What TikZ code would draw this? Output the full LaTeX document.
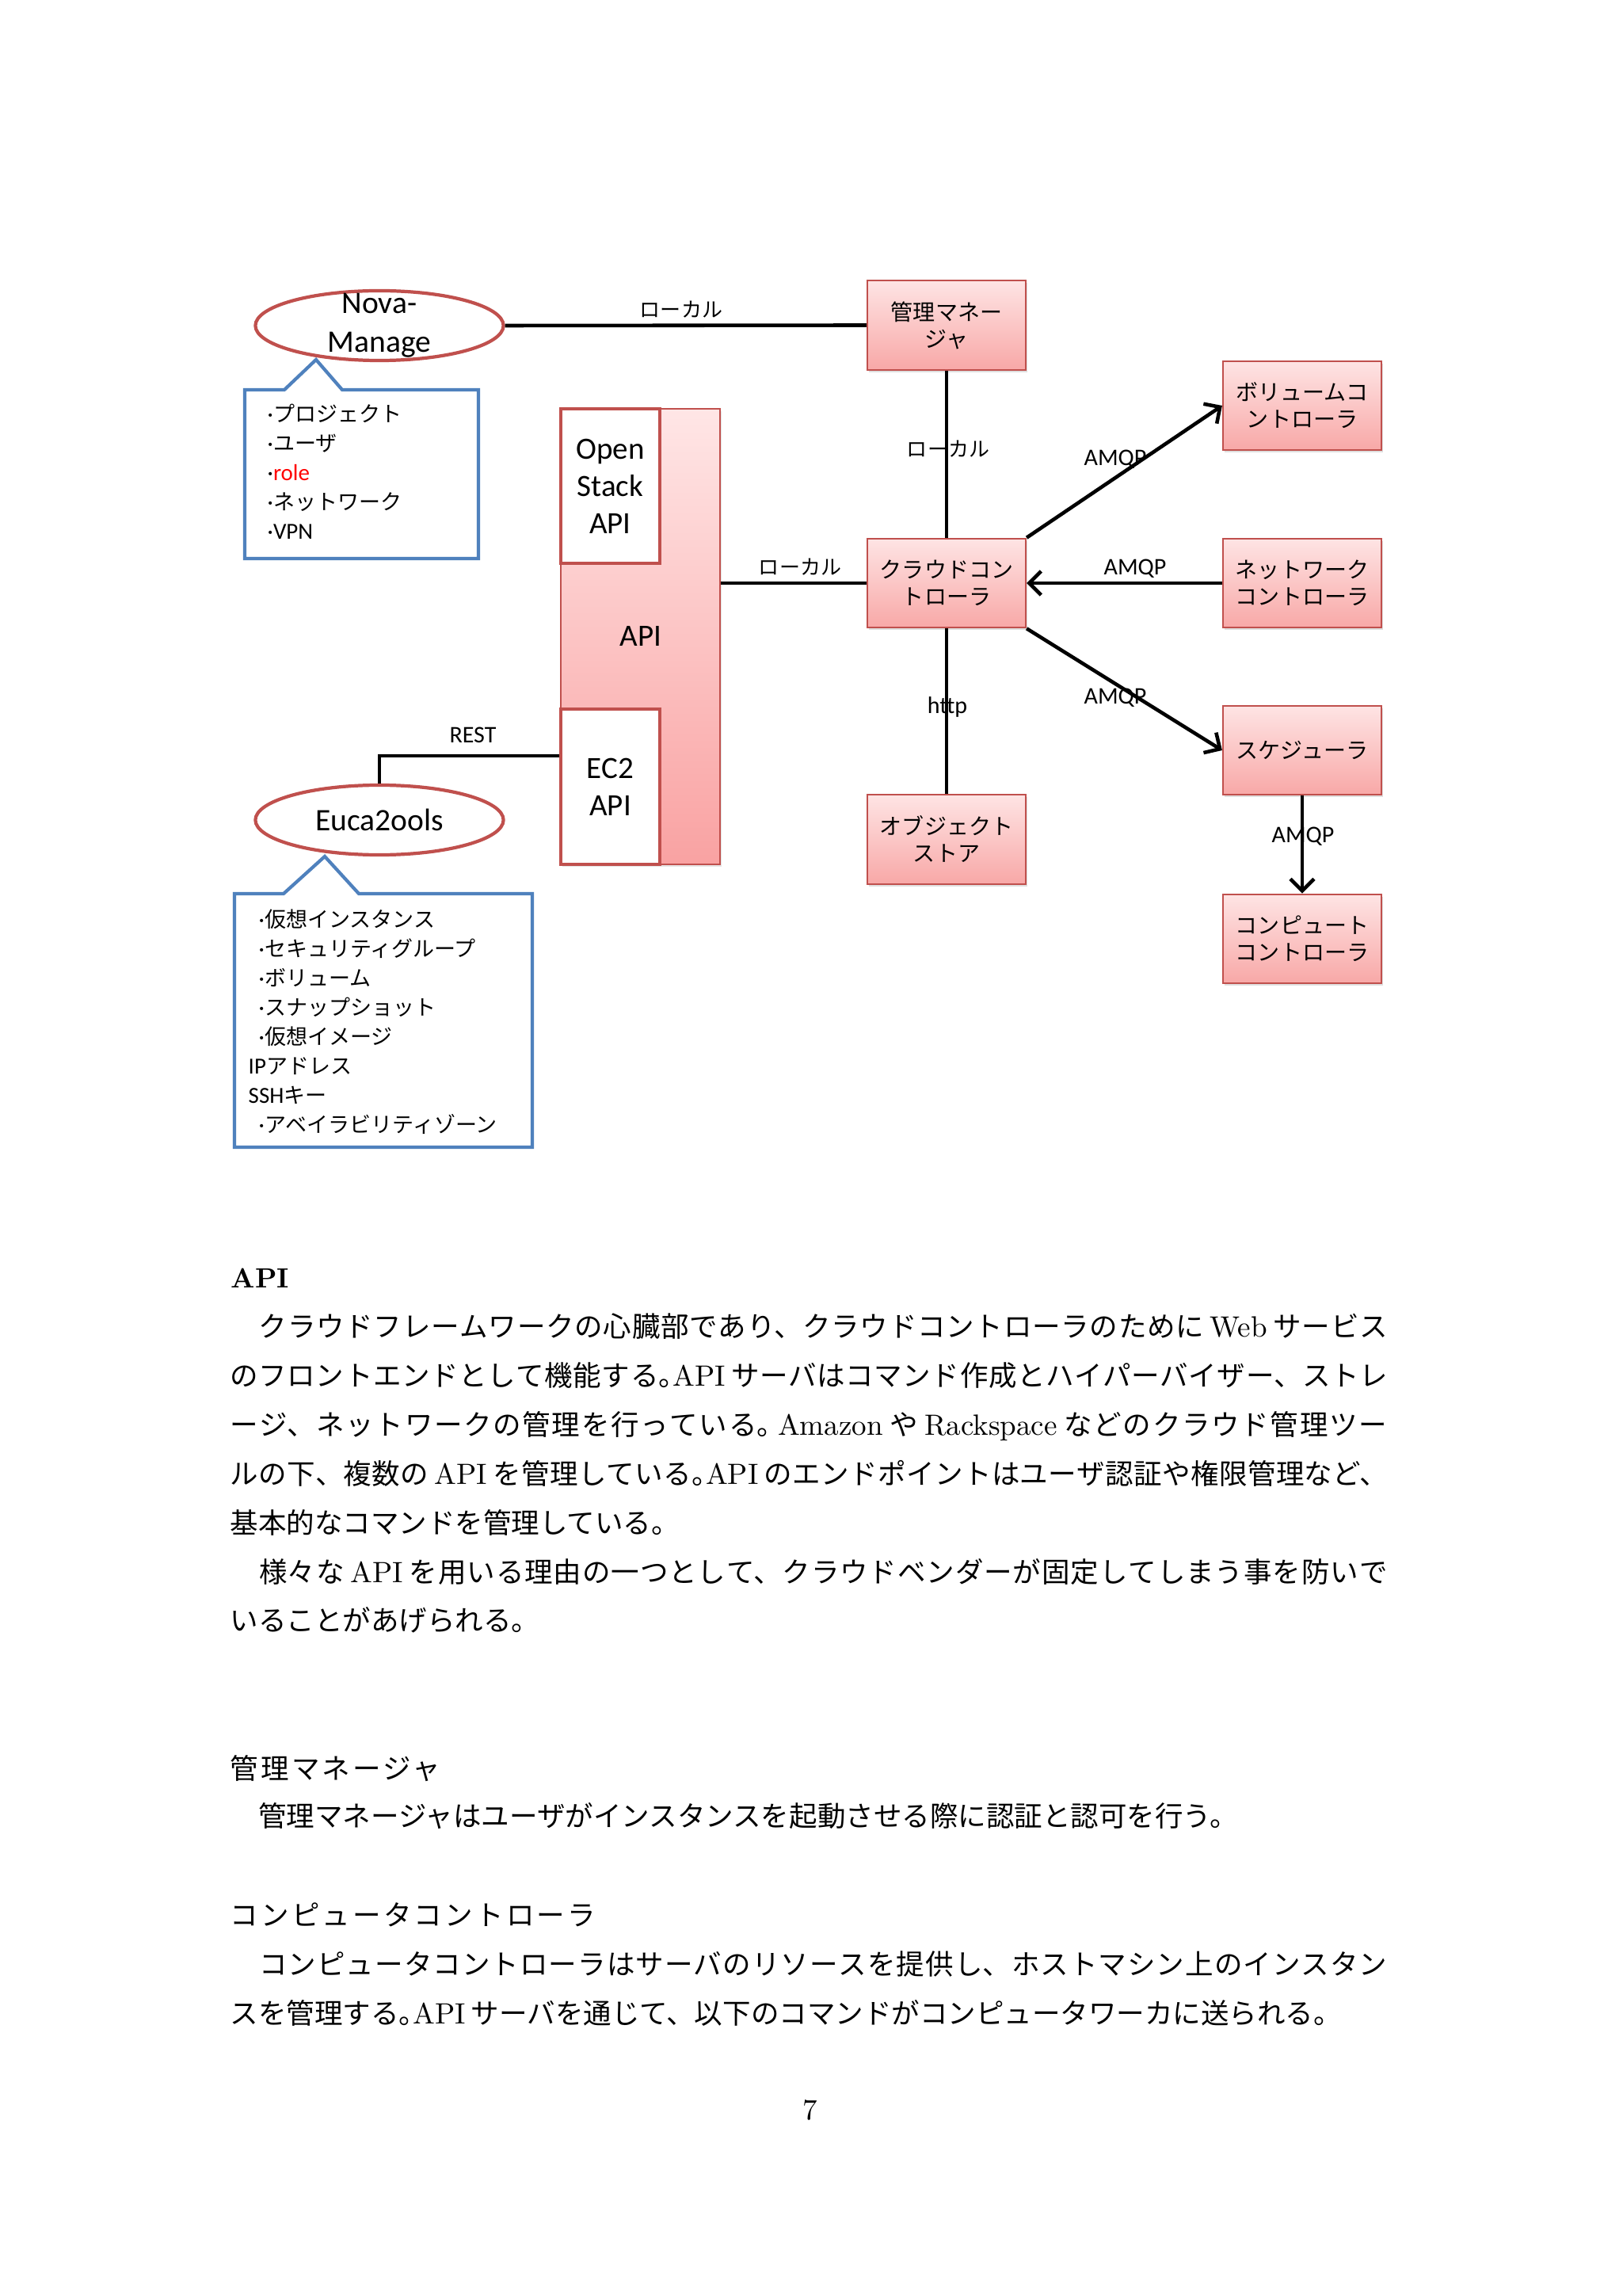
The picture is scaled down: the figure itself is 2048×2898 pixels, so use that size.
\documentclass[tikz,border=0pt]{standalone}
\usepackage{fontspec}
\usetikzlibrary{arrows.meta,shadows,shapes.geometric}
\newfontfamily\calfont{Carlito}
\newfontfamily\jpfont{Noto Sans CJK JP}
\newfontfamily\jphalt[RawFeature=+halt]{Noto Sans CJK JP}
\newfontfamily\jphead[LetterSpace=9]{Noto Sans CJK JP}
\newcommand{\lmfont}{\rmfamily}
\definecolor{accred}{HTML}{C0504D}
\definecolor{accblue}{HTML}{4F81BD}
\definecolor{pinktop}{HTML}{FEE4E4}
\definecolor{pinkbot}{HTML}{F8A8A7}
\definecolor{apitop}{HTML}{FFE6E6}
\definecolor{apibot}{HTML}{F9A2A2}
\definecolor{rolered}{HTML}{FF0000}
\XeTeXlinebreakskip=0pt plus 1fil
\newcommand{\latw}[1]{\hskip 0.07cm plus 1fil{\lmfont\fontsize{0.37cm}{0.45cm}\selectfont #1}\hskip 0.07cm plus 1fil\relax}
\newcommand{\latn}[1]{{\lmfont\fontsize{0.37cm}{0.45cm}\selectfont #1}\hskip 0.07cm plus 1fil\relax}
\newcommand{\hmaru}{{\jphalt 。}}
\newcommand{\bodyjp}{\jpfont\fontsize{0.355cm}{0.45cm}\selectfont\XeTeXlinebreaklocale "ja"\relax}
\newcommand{\clat}[1]{{\calfont\fontsize{0.29cm}{0.33cm}\selectfont #1}}
\newcommand{\cbul}{\clat{·}}
\tikzset{
  pinkbox/.style={rectangle, draw=accred, line width=0.6pt, top color=pinktop, bottom color=pinkbot,
    minimum width=2cm, minimum height=1.125cm, inner sep=0pt, align=center,
    font=\jpfont\fontsize{0.28cm}{0.34cm}\selectfont,
    drop shadow={shadow xshift=0.02cm, shadow yshift=-0.03cm, opacity=0.25}},
  apirect/.style={rectangle, draw=accred, line width=0.6pt, top color=apitop, bottom color=apibot,
    minimum width=2.01cm, minimum height=5.75cm, inner sep=0pt,
    drop shadow={shadow xshift=0.02cm, shadow yshift=-0.03cm, opacity=0.2}},
  apibox/.style={rectangle, draw=accred, line width=1.2pt, fill=white, minimum width=1.25cm,
    minimum height=1.95cm, inner sep=0pt, align=center,
    font=\calfont\fontsize{0.39cm}{0.47cm}\selectfont},
  ell/.style={ellipse, draw=accred, line width=1.2pt, fill=white, minimum width=3.13cm,
    minimum height=0.88cm, inner sep=0pt},
  etext/.style={inner sep=0pt, align=center, font=\calfont\fontsize{0.395cm}{0.49cm}\selectfont},
  bigtext/.style={inner sep=0pt, anchor=base, font=\calfont\fontsize{0.39cm}{0.47cm}\selectfont},
  callout/.style={draw=accblue, line width=1.2pt, fill=white, line join=miter},
  ctext/.style={anchor=base west, inner sep=0pt, font=\jpfont\fontsize{0.27cm}{0.33cm}\selectfont},
  conn/.style={line width=1.3pt, draw=black},
  arr/.style={conn, -{Straight Barb[length=0.15cm,width=0.3cm]}},
  lab/.style={font=\calfont\fontsize{0.30cm}{0.36cm}\selectfont, inner sep=0pt, anchor=base},
  jlab/.style={font=\jpfont\fontsize{0.26cm}{0.3cm}\selectfont, inner sep=0pt},
  bodyline/.style={anchor=base west, inner sep=0pt, font=\bodyjp},
  bodyjust/.style={bodyline, text width=14.61cm, align=justify},
  headjp/.style={anchor=base west, inner sep=0pt, font=\jphead\fontsize{0.355cm}{0.45cm}\selectfont}
}
\begin{document}
\begin{tikzpicture}[x=0.01cm, y=-0.01cm]
\useasboundingbox (0,0) rectangle (2048,2898);
\fill[white] (0,0) rectangle (2048,2898);

% callouts
\draw[callout] (309,492) -- (359,492) -- (399,454) -- (432,492) -- (604,492) -- (604,705) -- (309,705) -- cycle;
\draw[callout] (296,1128) -- (358,1128) -- (410,1081) -- (453,1128) -- (672,1128) -- (672,1448) -- (296,1448) -- cycle;

% ellipses
\node[ell] (nm) at (479,411) {};
\node[etext] (nmt) at (nm.center) {Nova-\\Manage};
\node[ell] (euca) at (479,1035) {};
\node[etext] (eucat) at (euca.center) {Euca2ools};

% API block
\node[apirect] (api) at (808.5,803.5) {};
\node[apibox] (osapi) at (770.5,613.5) {Open\\Stack\\API};
\node[apibox, minimum height=1.96cm] (ec2) at (770.5,993) {EC2\\API};
\node[bigtext] (apit) at (809,816) {API};

% pink boxes
\node[pinkbox] (kanri) at (1195,410.5) {管理マネー\\ジャ};
\node[pinkbox] (cloud) at (1195,736) {クラウドコン\\トローラ};
\node[pinkbox] (obj) at (1195,1059.5) {オブジェクト\\ストア};
\node[pinkbox] (vol) at (1644,512) {ボリュームコ\\ントローラ};
\node[pinkbox] (net) at (1644,736) {ネットワーク\\コントローラ};
\node[pinkbox] (sched) at (1644,947) {スケジューラ};
\node[pinkbox] (comp) at (1644,1185) {コンピュート\\コントローラ};

% connectors
\draw[conn] (nm.east) -- (kanri.west);
\draw[conn] (kanri.south) -- (cloud.north);
\draw[conn] (cloud.west -| api.east) -- (cloud.west);
\draw[conn] (cloud.south) -- (obj.north);
\draw[arr] (cloud.north east) -- (vol.west);
\draw[arr] (net.west) -- (cloud.east);
\draw[arr] (cloud.south east) -- (sched.west);
\draw[arr] (sched.south) -- (comp.north);
\coordinate (restc) at (euca.north |- 0,954);
\draw[conn] (restc -| ec2.west) -- (restc) -- (euca.north);

% connector labels
\node[jlab] (l1) at (860,391) {ローカル};
\node[jlab] (l2) at (1197,567) {ローカル};
\node[jlab] (l3) at (1010,716) {ローカル};
\node[lab] (l4) at (1196,900) {http};
\node[lab] (l5) at (1408,588) {AMQP};
\node[lab] (l6) at (1433,726) {AMQP};
\node[lab] (l7) at (1408,889) {AMQP};
\node[lab] (l8) at (1645,1063) {AMQP};
\node[lab] (l9) at (597,938) {REST};

% callout texts
\node[ctext] (c11) at (337,533) {\cbul プロジェクト};
\node[ctext] (c12) at (337,570) {\cbul ユーザ};
\node[ctext] (c13) at (337,607) {\cbul\textcolor{rolered}{\clat{role}}};
\node[ctext] (c14) at (337,644) {\cbul ネットワーク};
\node[ctext] (c15) at (337,681) {\cbul\clat{VPN}};

\node[ctext] (c21) at (326,1170) {\cbul 仮想インスタンス};
\node[ctext] (c22) at (326,1207) {\cbul セキュリティグループ};
\node[ctext] (c23) at (326,1244) {\cbul ボリューム};
\node[ctext] (c24) at (326,1281) {\cbul スナップショット};
\node[ctext] (c25) at (326,1318) {\cbul 仮想イメージ};
\node[ctext] (c26) at (313,1355) {\clat{IP}アドレス};
\node[ctext] (c27) at (313,1392) {\clat{SSH}キー};
\node[ctext] (c28) at (326,1429) {\cbul アベイラビリティゾーン};

% body text
\node[anchor=base west, inner sep=0pt, font=\lmfont\bfseries\fontsize{0.35cm}{0.4cm}\selectfont] (h1) at (291,1625) {API};
\node[bodyjust] (p1) at (290,1687) {\parfillskip=0pt\relax 　クラウドフレームワークの心臓部であり、クラウドコントローラのために\latw{Web}サービス};
\node[bodyjust] (p2) at (290,1749) {\parfillskip=0pt\relax のフロントエンドとして機能する\hmaru\latn{API}サーバはコマンド作成とハイパーバイザー、ストレ};
\node[bodyjust] (p3) at (290,1811) {\parfillskip=0pt\relax ージ、ネットワークの管理を行っている\hmaru\latw{Amazon}や\latw{Rackspace}などのクラウド管理ツー};
\node[bodyjust] (p4) at (290,1873) {\parfillskip=0pt\relax ルの下、複数の\latw{API}を管理している\hmaru\latn{API}のエンドポイントはユーザ認証や権限管理など、};
\node[bodyline] (p5) at (290,1935) {基本的なコマンドを管理している。};
\node[bodyjust] (p6) at (290,1997) {\parfillskip=0pt\relax 　様々な\latw{API}を用いる理由の一つとして、クラウドベンダーが固定してしまう事を防いで};
\node[bodyline] (p7) at (290,2058) {いることがあげられる。};

\node[headjp] (h2) at (290,2245) {管理マネージャ};
\node[bodyline] (p8) at (290,2305) {　管理マネージャはユーザがインスタンスを起動させる際に認証と認可を行う。};

\node[headjp] (h3) at (290,2430) {コンピュータコントローラ};
\node[bodyjust] (p9) at (290,2492) {\parfillskip=0pt\relax 　コンピュータコントローラはサーバのリソースを提供し、ホストマシン上のインスタン};
\node[bodyline] (p10) at (290,2554) {スを管理する\hmaru\latn{API}サーバを通じて、以下のコマンドがコンピュータワーカに送られる。};

\node[anchor=base, inner sep=0pt, font=\lmfont\fontsize{0.37cm}{0.45cm}\selectfont] (pg) at (1023,2675) {7};
\end{tikzpicture}
\end{document}
